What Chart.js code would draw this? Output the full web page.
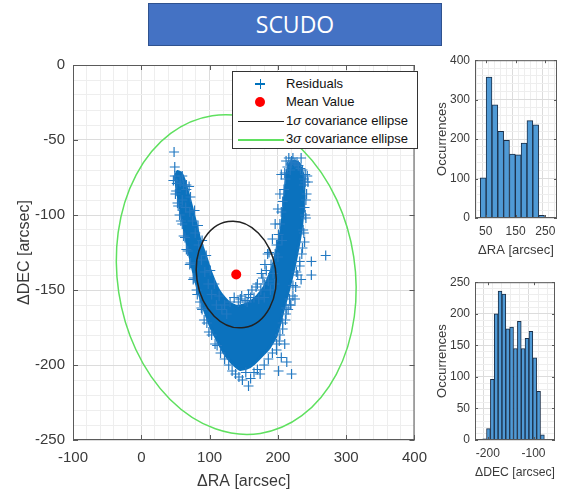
<!DOCTYPE html>
<html>
<head>
<meta charset="utf-8">
<script src="https://cdn.jsdelivr.net/npm/chart.js@4.4.0/dist/chart.umd.min.js"></script>
<style>
body { margin: 0; background: #fff; width: 569px; height: 491px; overflow: hidden; position: relative; font-family: "Liberation Sans", Arial, sans-serif; }
#title { position: absolute; left: 148px; top: 3px; width: 292px; height: 41px; background: #4472c4; border: 1px solid #2f528f; color: #fff; font: 23px "Open Sans", sans-serif; text-align: center; line-height: 41px; }
.wrap { position: absolute; }
#legend { position: absolute; left: 232px; top: 71px; width: 184px; height: 76px; border: 1px solid #333; background: #fff; font-size: 13px; color: #111; }
#legend .row { position: absolute; left: 53px; height: 16px; line-height: 16px; white-space: nowrap; }
#legend .mk { position: absolute; }
</style>
</head>
<body>
<div id="title">SCUDO</div>
<div class="wrap" style="left:0;top:48px;width:436px;height:443px"><canvas id="main"></canvas></div>
<div class="wrap" style="left:425px;top:48px;width:144px;height:210px"><canvas id="histRA"></canvas></div>
<div class="wrap" style="left:425px;top:270px;width:144px;height:210px"><canvas id="histDEC"></canvas></div>
<div id="legend">
  <div class="mk" style="left:22px;top:11px;width:10px;height:1.5px;background:#0072bd"></div>
  <div class="mk" style="left:26.5px;top:6.5px;width:1.5px;height:10px;background:#0072bd"></div>
  <div class="mk" style="left:22px;top:25px;width:10px;height:10px;border-radius:50%;background:#ff0000"></div>
  <div class="mk" style="left:5px;top:49px;width:46px;height:1px;background:#222"></div>
  <div class="mk" style="left:5px;top:67px;width:46px;height:1.5px;background:#5fe05f"></div>
  <div class="row" style="top:4px">Residuals</div>
  <div class="row" style="top:22px">Mean Value</div>
  <div class="row" style="top:41px">1<i>σ</i> covariance ellipse</div>
  <div class="row" style="top:59px">3<i>σ</i> covariance ellipse</div>
</div>
<script>
// ---- data ----
const raTicks = [-100, 0, 100, 200, 300, 400];
const decTicks = [-250, -200, -150, -100, -50, 0];

const meanRA = [139];
const meanDEC = [-139.7];

// covariance ellipse: centre, 1-sigma semi axes [RA, DEC], tilt (rad on screen)
const ellipseCenter = [139, -139.7];
const ellipseAxes = [58, 35.7];
const ellipseTilt = -0.15;
const sigmaLevels = [1, 3];
const ellipseColors = ['#222222', '#5fe05f'];

// outline of the dense part of the residual cloud
const coreRA  = [50, 52, 56, 60, 64, 68, 73, 78, 84, 90, 97, 104, 112, 120, 128, 136, 145, 155, 165, 176, 188, 197, 203, 208, 214, 220, 226, 231, 235, 237, 238, 236, 231, 224, 217, 213, 211, 209, 207, 204, 199, 194, 188, 180, 170, 160, 150, 140, 130, 121, 113, 106, 100, 94, 86, 80, 74, 68, 63, 58, 53, 50];
const coreDEC = [-74, -82, -92, -102, -112, -121, -131, -141, -151, -160, -169, -177, -184, -191, -196, -200, -203, -202, -199, -194, -188, -181, -172, -163, -153, -142, -130, -118, -106, -94, -82, -72, -66, -64, -66, -72, -82, -92, -102, -112, -122, -132, -140, -148, -154, -158, -160, -161, -159, -155, -150, -143, -136, -127, -117, -106, -95, -85, -77, -72, -71, -74];

// individual residual markers around the cloud
const residualPoints = [
  [48,-58],[49,-68],[47,-77],[52,-79],[57,-78],[62,-80],[66,-83],[70,-81],[50,-86],[53,-92],[60,-90],[65,-95],
  [56,-100],[71,-98],[60,-106],[75,-104],[64,-115],[79,-112],[68,-124],[84,-120],[72,-132],[88,-130],[77,-142],
  [93,-138],[81,-150],[98,-146],[86,-158],[88,-162],[103,-153],[92,-170],[110,-160],[99,-178],[118,-163],[108,-186],
  [125,-166],[116,-192],[49,-74],[51,-84],[54,-94],[58,-104],[62,-114],[66,-123],[71,-133],[76,-143],[82,-153],
  [89,-163],[96,-172],[103,-180],[111,-187],[60,-74],[66,-80],[72,-88],[78,-97],[83,-107],[89,-117],[95,-127],
  [101,-137],[107,-146],[114,-154],[122,-160],
  [122,-196],[128,-200],[133,-204],[138,-206],[143,-208],[148,-210],[153,-205],[157,-214],[160,-209],[165,-205],
  [170,-203],[174,-206],[180,-200],[186,-196],[192,-192],[198,-190],[202,-184],[205,-195],[201,-204],[220,-206],
  [213,-198],[207,-176],[211,-170],[215,-163],[218,-160],[225,-156],[210,-186],
  [130,-158],[136,-155],[142,-158],[147,-154],[152,-157],[157,-153],[162,-150],[165,-155],[170,-146],[175,-150],
  [178,-142],[183,-137],[186,-144],[172,-156],[190,-133],[193,-139],[196,-126],[198,-120],[185,-126],[201,-113],
  [203,-106],[205,-98],[207,-91],[209,-83],[211,-76],[206,-117],[200,-128],[205,-73],[203,-86],[200,-96],
  [196,-106],[192,-116],[187,-125],[181,-133],[176,-139],[168,-148],[145,-156],[155,-158],[160,-155],[180,-146],
  [195,-146],[189,-150],[180,-155],
  [212,-64],[216,-62],[220,-64],[225,-65],[230,-67],[236,-70],[240,-73],[243,-74],[238,-80],[242,-86],[239,-95],
  [241,-102],[237,-110],[239,-118],[235,-126],[232,-134],[229,-140],[234,-143],[249,-131],[249,-140],[270,-127],
  [226,-148],[222,-154],[219,-160],[212,-166],[240,-78],[241,-90],[240,-100],[238,-112],[236,-122],[232,-131],
  [227,-138],[222,-147],[217,-156],[212,-162],[207,-172],[203,-180],[198,-186],
  [214,-68],[219,-66],[228,-66],[233,-69],[210,-72],[238,-76],[244,-78],[222,-62],[218,-70],[234,-62]
];

// histograms
const raBinCenters = [41.4, 61, 80.6, 100.2, 119.8, 139.4, 159, 178.6, 198.2, 217.8, 237.4];
const raCounts = [102, 357, 287, 220, 197, 162, 160, 190, 247, 236, 7];
const raHistTicks = [50, 150, 250];
const raCountTicks = [0, 100, 200, 300, 400];

const decBinCenters = [-207.1, -198.7, -190.2, -181.8, -173.3, -164.9, -156.5, -148.0, -139.6, -131.1, -122.7, -114.3, -105.8, -97.4, -88.9, -80.5];
const decCounts = [2, 18, 96, 200, 236, 231, 176, 179, 145, 188, 145, 161, 172, 130, 77, 8];
const decHistTicks = [-200, -100];
const decCountTicks = [0, 50, 100, 150, 200, 250];

// ---- helpers ----
const FONT = '"Liberation Sans", Arial, sans-serif';
const MAJOR = '#dcdcdc', MINOR = '#eeeeee', TEXT = '#3a3a3a';

function stepList(min, max, step) {
  const out = [];
  for (let i = 0; min + i * step <= max + 1e-9; i++) out.push(Math.round((min + i * step) * 1000) / 1000);
  return out;
}

function axis(opts) {
  return {
    type: 'linear',
    min: opts.min, max: opts.max,
    afterBuildTicks: s => { s.ticks = opts.all.map(v => ({ value: v })); },
    afterFit: s => { if (opts.width) s.width = opts.width; if (opts.height) s.height = opts.height; },
    ticks: {
      autoSkip: false, maxRotation: 0, padding: opts.tickPad, color: TEXT,
      font: { family: FONT, size: opts.tickSize },
      callback: v => opts.major.includes(v) ? String(v) : ''
    },
    grid: {
      drawTicks: false,
      color: c => (c.tick && opts.major.includes(c.tick.value)) ? MAJOR : MINOR
    },
    border: { display: false },
    title: {
      display: true, text: opts.title, color: TEXT,
      font: { family: FONT, size: opts.titleSize },
      padding: { top: opts.titlePad, bottom: 0 }
    }
  };
}

const boxPlugin = {
  id: 'box',
  afterDraw(chart) {
    const { ctx, chartArea: a, scales } = chart;
    const o = chart.config.options.plugins.box;
    ctx.save();
    ctx.strokeStyle = '#5a5a5a';
    ctx.lineWidth = 1;
    ctx.strokeRect(a.left + 0.5, a.top + 0.5, a.width - 1, a.height - 1);
    ctx.beginPath();
    o.xMajor.forEach(v => {
      const px = Math.round(scales.x.getPixelForValue(v)) + 0.5;
      ctx.moveTo(px, a.bottom); ctx.lineTo(px, a.bottom - o.tick);
      ctx.moveTo(px, a.top); ctx.lineTo(px, a.top + o.tick);
    });
    o.yMajor.forEach(v => {
      const py = Math.round(scales.y.getPixelForValue(v)) + 0.5;
      ctx.moveTo(a.left, py); ctx.lineTo(a.left + o.tick, py);
      ctx.moveTo(a.right, py); ctx.lineTo(a.right - o.tick, py);
    });
    ctx.stroke();
    ctx.restore();
  }
};

const ellipsePlugin = {
  id: 'ellipses',
  afterDatasetsDraw(chart) {
    const { ctx, chartArea: a, scales: { x, y } } = chart;
    ctx.save();
    ctx.beginPath();
    ctx.rect(a.left, a.top, a.width, a.height);
    ctx.clip();
    sigmaLevels.forEach((k, i) => {
      const cx = x.getPixelForValue(ellipseCenter[0]);
      const cy = y.getPixelForValue(ellipseCenter[1]);
      const rx = Math.abs(x.getPixelForValue(ellipseCenter[0] + k * ellipseAxes[0]) - cx);
      const ry = Math.abs(y.getPixelForValue(ellipseCenter[1] + k * ellipseAxes[1]) - cy);
      ctx.beginPath();
      ctx.ellipse(cx, cy, rx, ry, ellipseTilt, 0, 2 * Math.PI);
      ctx.strokeStyle = ellipseColors[i];
      ctx.lineWidth = 1.5;
      ctx.stroke();
    });
    ctx.restore();
  }
};

Chart.defaults.animation = false;
Chart.defaults.maintainAspectRatio = false;
Chart.defaults.responsive = true;

// ---- main scatter ----
new Chart(document.getElementById('main'), {
  type: 'scatter',
  data: {
    datasets: [
      {
        label: 'Mean Value',
        data: meanRA.map((v, i) => ({ x: v, y: meanDEC[i] })),
        pointStyle: 'circle', pointRadius: 5,
        backgroundColor: '#ff0000', borderColor: '#ff0000', borderWidth: 0
      },
      {
        label: 'Residuals',
        data: residualPoints.map(p => ({ x: p[0], y: p[1] })),
        pointStyle: 'cross', pointRadius: 5, borderWidth: 1.2,
        borderColor: '#2379c2', backgroundColor: '#2379c2'
      },
      {
        label: 'core',
        data: coreRA.map((v, i) => ({ x: v, y: coreDEC[i] })),
        showLine: true, fill: 'shape', tension: 0.1,
        pointRadius: 0, borderWidth: 3,
        borderColor: '#0b72be', backgroundColor: '#0b72be'
      }
    ]
  },
  options: {
    layout: { padding: { top: 12, right: 8, left: 0, bottom: 0 } },
    plugins: {
      legend: { display: false }, tooltip: { enabled: false },
      box: { xMajor: raTicks, yMajor: decTicks, tick: 5 }
    },
    scales: {
      x: axis({ min: -100, max: 400, all: stepList(-100, 400, 20), major: raTicks, height: 51,
        tickPad: 9, tickSize: 15, title: 'ΔRA [arcsec]', titleSize: 16, titlePad: 4.5 }),
      y: axis({ min: -250, max: 0, all: stepList(-250, 0, 10), major: decTicks, width: 73,
        tickPad: 8, tickSize: 15, title: 'ΔDEC [arcsec]', titleSize: 16, titlePad: 15 })
    }
  },
  plugins: [ellipsePlugin, boxPlugin]
});

// ---- histograms ----
function makeHist(id, centers, counts, xr, xAll, xMajor, yr, yAll, yMajor, xTitle, padRight) {
  new Chart(document.getElementById(id), {
    type: 'bar',
    data: {
      datasets: [{
        data: centers.map((c, i) => ({ x: c, y: counts[i] })),
        backgroundColor: '#4f9ad6', borderColor: '#1b2f48', borderWidth: 1,
        barPercentage: 1, categoryPercentage: 1, grouped: false
      }]
    },
    options: {
      layout: { padding: { top: 11, right: padRight, left: 0, bottom: 0 } },
      plugins: {
        legend: { display: false }, tooltip: { enabled: false },
        box: { xMajor: xMajor, yMajor: yMajor, tick: 3 }
      },
      scales: {
        x: axis({ min: xr[0], max: xr[1], all: xAll, major: xMajor, height: 40,
          tickPad: 6, tickSize: 12, title: xTitle, titleSize: 13, titlePad: 5 }),
        y: axis({ min: yr[0], max: yr[1], all: yAll, major: yMajor, width: 50,
          tickPad: 5, tickSize: 12, title: 'Occurrences', titleSize: 13, titlePad: 10 })
      }
    },
    plugins: [boxPlugin]
  });
}

makeHist('histRA', raBinCenters, raCounts, [24.4, 278.7], stepList(30, 270, 20), raHistTicks,
  [0, 400], stepList(0, 400, 20), raCountTicks, 'ΔRA [arcsec]', 12);
makeHist('histDEC', decBinCenters, decCounts, [-215.6, -65.5], stepList(-200, -80, 20), decHistTicks,
  [0, 250], stepList(0, 250, 10), decCountTicks, 'ΔDEC [arcsec]', 14);
</script>
</body>
</html>
